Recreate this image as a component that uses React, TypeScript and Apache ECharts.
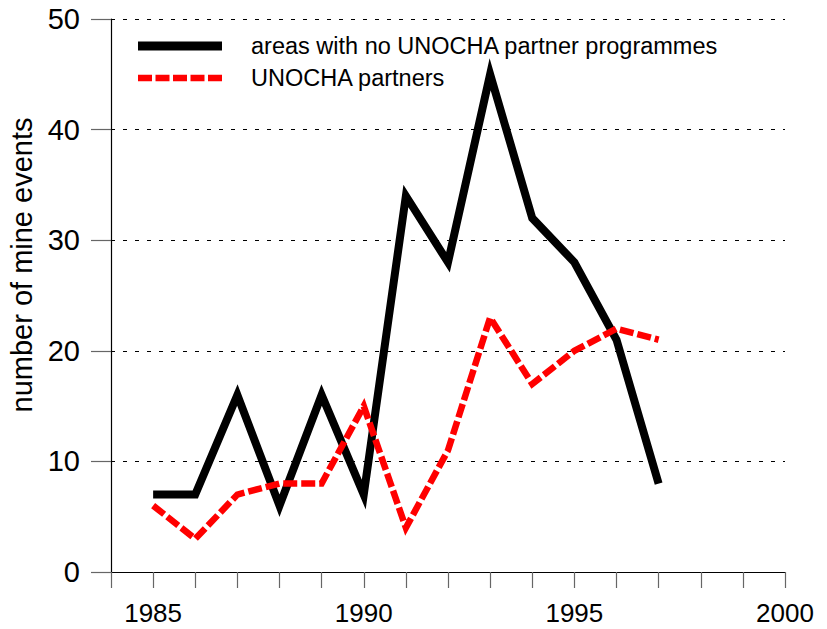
import React, { useEffect, useRef } from "react";
import * as echarts from "echarts";

const years = [1985, 1986, 1987, 1988, 1989, 1990, 1991, 1992, 1993, 1994, 1995, 1996, 1997];
const noPartners = [7, 7, 16, 6, 16, 7, 34, 28, 45, 32, 28, 21, 8];
const partners = [6, 3, 7, 8, 8, 15, 4, 11, 23, 17, 20, 22, 21];
const seriesNames = ["areas with no UNOCHA partner programmes", "UNOCHA partners"];
const yTitle = "number of mine events";

export default function App() {
  const ref = useRef<HTMLDivElement>(null);
  useEffect(() => {
    if (!ref.current) return;
    const chart = echarts.init(ref.current, null, { renderer: "svg" });
    const font = "'Liberation Sans', Arial, sans-serif";
    chart.setOption({
      animation: false,
      grid: { left: 111, right: 42, top: 19, bottom: 57, containLabel: false, outerBoundsMode: "none" },
      xAxis: {
        type: "value",
        min: 1984,
        max: 2000,
        interval: 1,
        axisLine: { show: true, lineStyle: { color: "#000", width: 1.2 } },
        axisTick: { show: true, inside: false, length: 16, lineStyle: { color: "#666", width: 1.2 } },
        axisLabel: {
          margin: 28,
          fontSize: 26,
          fontFamily: font,
          color: "#000",
          formatter: (v: number) => (v % 5 === 0 ? String(v) : ""),
          showMinLabel: true,
          showMaxLabel: true,
        },
        splitLine: { show: false },
      },
      yAxis: {
        type: "value",
        min: 0,
        max: 50,
        interval: 10,
        axisLine: { show: true, lineStyle: { color: "#000", width: 1.2 } },
        axisTick: { show: true, inside: false, length: 20, lineStyle: { color: "#666", width: 1.2 } },
        axisLabel: { margin: 31, fontSize: 29, fontFamily: font, color: "#000" },
        splitLine: { show: true, lineStyle: { color: "#000", width: 1, type: [4, 8] } },
      },
      series: [
        {
          name: seriesNames[0],
          type: "line",
          data: years.map((y, i) => [y, noPartners[i]]),
          symbol: "none",
          lineStyle: { color: "#000", width: 8, cap: "butt", join: "miter" },
          z: 3,
        },
        {
          name: seriesNames[1],
          type: "line",
          data: years.map((y, i) => [y, partners[i]]),
          symbol: "none",
          lineStyle: { color: "#ff0000", width: 6.5, type: [14, 4], cap: "butt", join: "miter" },
          z: 4,
        },
      ],
      graphic: [
        {
          type: "text",
          x: 22,
          y: 265,
          rotation: Math.PI / 2,
          style: { text: yTitle, fontSize: 29, fontFamily: font, fill: "#000", align: "center", verticalAlign: "middle" },
          z: 10,
        },
        { type: "line", shape: { x1: 138, y1: 46, x2: 222, y2: 46 }, style: { stroke: "#000", lineWidth: 9 }, z: 10 },
        { type: "line", shape: { x1: 138, y1: 78, x2: 223, y2: 78 }, style: { stroke: "#ff0000", lineWidth: 6.5, lineDash: [14, 3.5] }, z: 10 },
        { type: "text", x: 251, y: 46, style: { text: seriesNames[0], fontSize: 23.5, fontFamily: font, fill: "#000", verticalAlign: "middle" }, z: 10 },
        { type: "text", x: 251, y: 78, style: { text: seriesNames[1], fontSize: 23.5, fontFamily: font, fill: "#000", verticalAlign: "middle" }, z: 10 },
      ],
    });
    return () => chart.dispose();
  }, []);
  return <div ref={ref} style={{ width: 827, height: 629, position: "absolute", left: 0, top: 0 }} />;
}
